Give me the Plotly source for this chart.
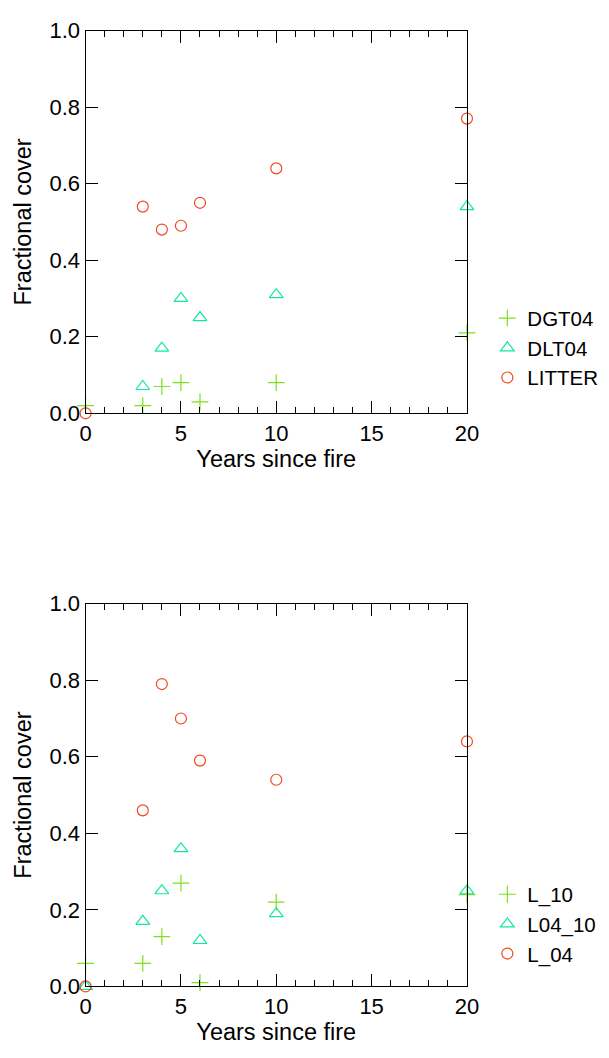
import plotly.graph_objects as go

years = [0, 3, 4, 5, 6, 10, 20]
years_dlt = [3, 4, 5, 6, 10, 20]

# top panel
dgt04 = [0.02, 0.02, 0.07, 0.08, 0.03, 0.08, 0.21]
dlt04 = [0.07, 0.17, 0.30, 0.25, 0.31, 0.54]
litter = [0.00, 0.54, 0.48, 0.49, 0.55, 0.64, 0.77]

# bottom panel
l_10 = [0.06, 0.06, 0.13, 0.27, 0.01, 0.22, 0.24]
l04_10 = [0.00, 0.17, 0.25, 0.36, 0.12, 0.19, 0.25]
l_04 = [0.00, 0.46, 0.79, 0.70, 0.59, 0.54, 0.64]

x_ticks = [0, 5, 10, 15, 20]
y_ticks = [0.0, 0.2, 0.4, 0.6, 0.8, 1.0]

GREEN = "#7ee021"
TEAL = "#12e6a6"
RED = "#f04a22"
FONT = "Liberation Sans, Arial, sans-serif"

W, H = 609, 1058

fig = go.Figure()


def add(x, y, name, symbol, color, size, xa, ya, legend):
    fig.add_trace(go.Scatter(
        x=x, y=y, name=name, mode="markers",
        marker=dict(symbol=symbol, size=size, color=color,
                    line=dict(color=color, width=1.2)),
        xaxis=xa, yaxis=ya, legend=legend, cliponaxis=False,
    ))


add(years, dgt04, "DGT04", "cross-thin-open", GREEN, 12, "x", "y", "legend")
add(years_dlt, dlt04, "DLT04", "triangle-up-open", TEAL, 12, "x", "y", "legend")
add(years, litter, "LITTER", "circle-open", RED, 11, "x", "y", "legend")

add(years, l_10, "L_10", "cross-thin-open", GREEN, 12, "x2", "y2", "legend2")
add(years, l04_10, "L04_10", "triangle-up-open", TEAL, 12, "x2", "y2", "legend2")
add(years, l_04, "L_04", "circle-open", RED, 11, "x2", "y2", "legend2")

x0, x1 = 82 / W, 475 / W
top_dom = [1 - 411 / H, 1 - 19 / H]
bot_dom = [1 - 998 / H, 1 - 606 / H]

xcommon = dict(
    range=[0, 20], tickvals=x_ticks, ticks="inside", ticklen=12, tickwidth=1,
    tickcolor="black", showline=True, linecolor="black", linewidth=1.2,
    mirror="allticks", showgrid=False, zeroline=False,
    minor=dict(dtick=1, ticks="inside", ticklen=6, tickcolor="black", tickwidth=1, showgrid=False),
    tickfont=dict(size=22, color="black", family=FONT),
    title=dict(text="Years since fire", font=dict(size=23.5, color="black", family=FONT), standoff=4),
    domain=[x0, x1],
)
ycommon = dict(
    range=[0, 1], tickvals=y_ticks, tickformat=".1f", ticks="inside", ticklen=12,
    tickwidth=1, tickcolor="black", showline=True, linecolor="black", linewidth=1.2,
    mirror="allticks", showgrid=False, zeroline=False,
    tickfont=dict(size=22, color="black", family=FONT),
    title=dict(text="Fractional cover", font=dict(size=23.5, color="black", family=FONT), standoff=11),
)

legcommon = dict(
    font=dict(size=20.5, color="black", family=FONT), bgcolor="rgba(0,0,0,0)",
    borderwidth=0, xanchor="left", yanchor="middle", x=496 / W,
    itemwidth=30, tracegroupgap=0,
)

fig.update_layout(
    width=W, height=H, margin=dict(l=0, r=0, t=0, b=0),
    paper_bgcolor="white", plot_bgcolor="white",
    font=dict(family=FONT, color="black", size=22),
    xaxis=dict(**xcommon, anchor="y"),
    yaxis=dict(**ycommon, domain=top_dom, anchor="x"),
    xaxis2=dict(**xcommon, anchor="y2"),
    yaxis2=dict(**ycommon, domain=bot_dom, anchor="x2"),
    legend=dict(**legcommon, y=1 - 344 / H),
    legend2=dict(**legcommon, y=1 - 934 / H),
    showlegend=True,
)

fig.write_html("out.html")
